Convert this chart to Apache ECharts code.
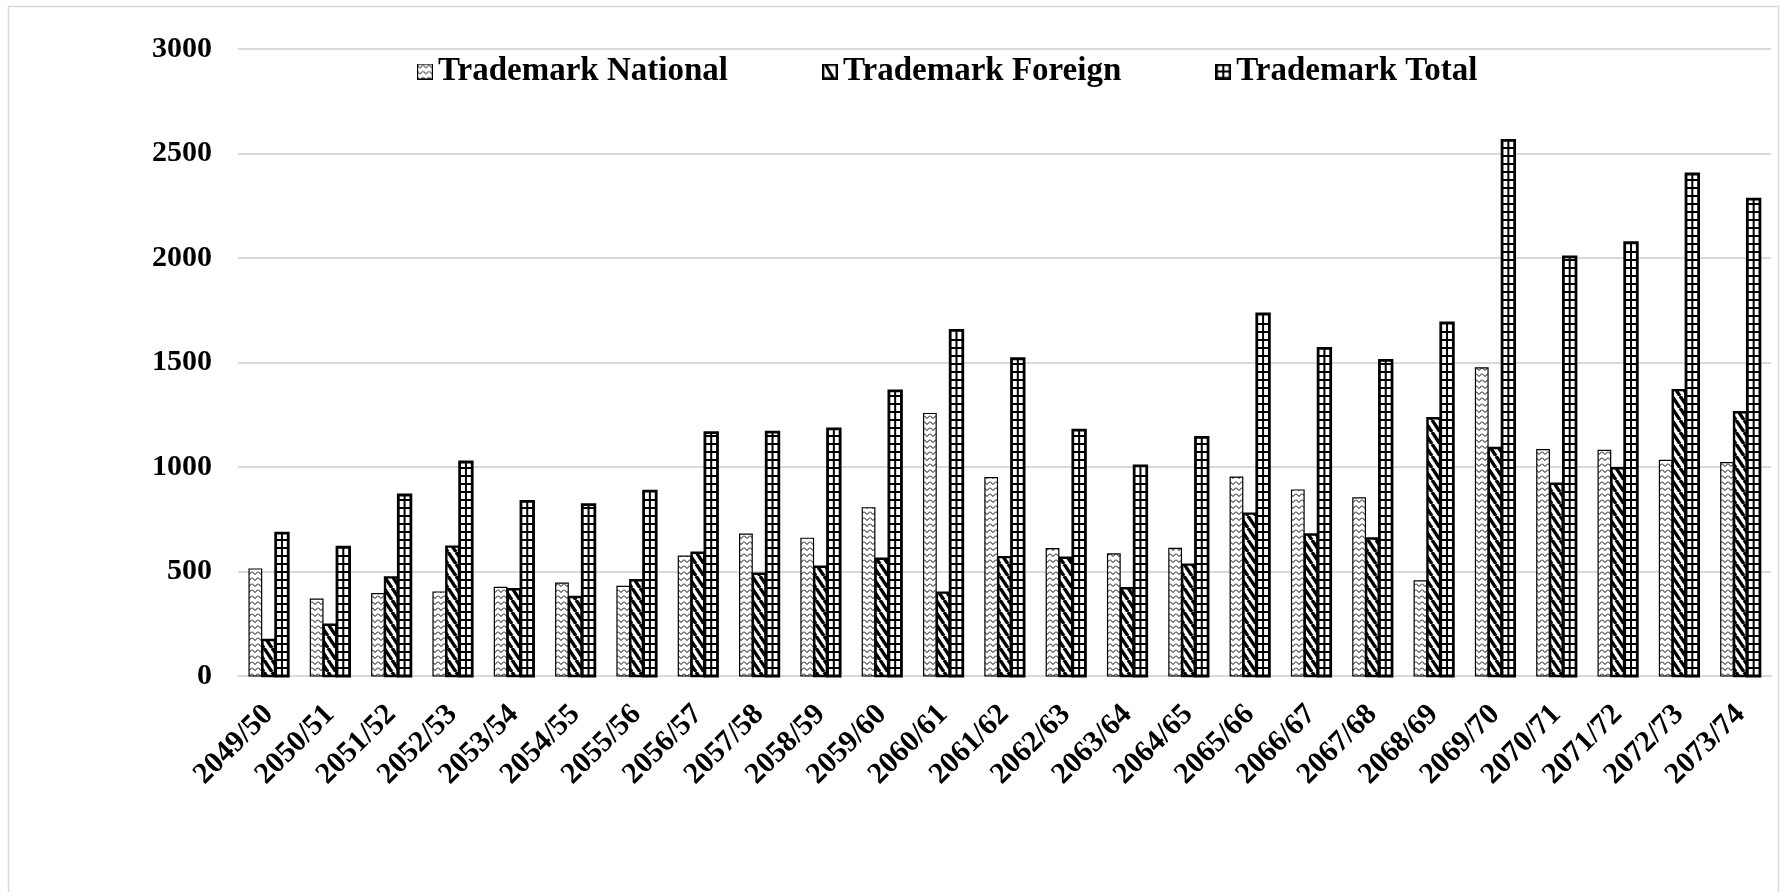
<!DOCTYPE html>
<html>
<head>
<meta charset="utf-8">
<script src="https://cdn.jsdelivr.net/npm/echarts@6/dist/echarts.min.js"></script>
<style>
html,body{margin:0;padding:0;background:#fff;}
#chart{width:1780px;height:892px;}
</style>
</head>
<body>
<div id="chart"></div>
<script>
const categories = ['2049/50','2050/51','2051/52','2052/53','2053/54','2054/55','2055/56','2056/57','2057/58','2058/59','2059/60','2060/61','2061/62','2062/63','2063/64','2064/65','2065/66','2066/67','2067/68','2068/69','2069/70','2070/71','2071/72','2072/73','2073/74'];
const nationalValues = [512,368,394,402,424,444,429,574,679,659,805,1256,949,609,584,611,952,890,852,455,1474,1083,1080,1032,1021];
const foreignValues = [172,245,472,619,415,378,458,590,489,523,561,399,569,566,420,533,777,677,658,1233,1091,920,994,1368,1262];
const totalValues = [684,616,866,1024,836,820,885,1164,1167,1182,1364,1654,1518,1176,1005,1142,1732,1568,1510,1689,2563,2005,2073,2402,2282];
const seriesNames = ['Trademark National','Trademark Foreign','Trademark Total'];
const yTicks = [0,500,1000,1500,2000,2500,3000];

const FONT = '"Liberation Serif","Times New Roman",serif';

function makeCanvas(w, h, draw) {
  const c = document.createElement('canvas');
  c.width = w; c.height = h;
  const ctx = c.getContext('2d');
  ctx.fillStyle = '#fff';
  ctx.fillRect(0, 0, w, h);
  draw(ctx, w, h);
  return c;
}
// National: fine dotted zigzag
const natTile = makeCanvas(6, 6, (ctx) => {
  ctx.strokeStyle = '#000'; ctx.lineWidth = 1;
  ctx.beginPath();
  ctx.moveTo(0, 1.5); ctx.lineTo(3, 4.5); ctx.lineTo(6, 1.5);
  ctx.stroke();
});
// Foreign: thick "\" stripes
const forTile = makeCanvas(8, 12, (ctx) => {
  ctx.strokeStyle = '#000'; ctx.lineWidth = 3.4;
  ctx.beginPath();
  for (let k = -1; k <= 1; k++) {
    ctx.moveTo(k * 8, 0); ctx.lineTo(k * 8 + 8, 12);
  }
  ctx.stroke();
});
const natPattern = { image: natTile, repeat: 'repeat' };
const forPattern = { image: forTile, repeat: 'repeat' };

// legend icons
function iconCanvas(kind) {
  return makeCanvas(16, 16, (ctx, w, h) => {
    if (kind === 0) {
      ctx.fillStyle = ctx.createPattern(natTile, 'repeat');
      ctx.fillRect(0, 0, w, h);
      ctx.strokeStyle = '#000'; ctx.lineWidth = 1.2; ctx.strokeRect(0.6, 0.6, w - 1.2, h - 1.2);
    } else if (kind === 1) {
      ctx.strokeStyle = '#000'; ctx.lineWidth = 3;
      ctx.beginPath(); ctx.moveTo(4, 2); ctx.lineTo(11, 14); ctx.stroke();
      ctx.lineWidth = 2.4; ctx.strokeRect(1.2, 1.2, w - 2.4, h - 2.4);
    } else {
      ctx.strokeStyle = '#000'; ctx.lineWidth = 2;
      ctx.beginPath();
      ctx.moveTo(w / 2, 0); ctx.lineTo(w / 2, h);
      ctx.moveTo(0, 8); ctx.lineTo(w, 8);
      ctx.stroke();
      ctx.lineWidth = 2.6; ctx.strokeRect(1.3, 1.3, w - 2.6, h - 2.6);
    }
  }).toDataURL();
}

function makeRender(slot) {
  return function (params, api) {
    const idx = api.value(0), val = api.value(1);
    const base = api.coord([idx, 0]);
    const top = api.coord([idx, val]);
    const cw = api.size([1, 0])[0];
    const bw = cw * 0.205, gap = cw * 0.012;
    const groupW = 3 * bw + 2 * gap;
    const left = base[0] - groupW / 2 + slot * (bw + gap);
    const y0 = base[1], y1 = top[1];
    const h = y0 - y1;
    if (slot === 0) {
      return { type: 'rect', shape: { x: left, y: y1, width: bw, height: h },
        style: { fill: natPattern, stroke: '#000', lineWidth: 1.2 } };
    }
    if (slot === 1) {
      return { type: 'rect', shape: { x: left, y: y1, width: bw, height: h },
        style: { fill: forPattern, stroke: '#000', lineWidth: 2.4 } };
    }
    // Total: ladder of white squares
    const cx = left + bw / 2;
    let d = 'M' + cx + ' ' + y1 + 'L' + cx + ' ' + y0;
    const period = 8;
    for (let y = y0 - period; y > y1 + 3; y -= period) {
      d += 'M' + left + ' ' + y.toFixed(2) + 'L' + (left + bw) + ' ' + y.toFixed(2);
    }
    return { type: 'group', children: [
      { type: 'rect', shape: { x: left, y: y1, width: bw, height: h }, style: { fill: '#fff', stroke: null } },
      { type: 'path', shape: { pathData: d }, style: { fill: null, stroke: '#000', lineWidth: 2 } },
      { type: 'rect', shape: { x: left, y: y1, width: bw, height: h }, style: { fill: null, stroke: '#000', lineWidth: 2.8 } }
    ] };
  };
}

const allSeries = [nationalValues, foreignValues, totalValues].map((vals, s) => ({
  name: seriesNames[s],
  type: 'custom',
  renderItem: makeRender(s),
  encode: { x: 0, y: 1 },
  itemStyle: { color: s === 0 ? natPattern : (s === 1 ? forPattern : '#fff'), borderColor: '#000' },
  data: vals.map((v, i) => [i, v])
}));

const chart = echarts.init(document.getElementById('chart'), null, { renderer: 'canvas' });
chart.setOption({
  animation: false,
  backgroundColor: '#fff',
  graphic: [{
    type: 'rect', left: 6, top: 4, z: -10,
    shape: { x: 0, y: 0, width: 1770, height: 900 },
    style: { fill: null, stroke: '#d9d9d9', lineWidth: 1.5 }
  }],
  legend: {
    left: 412, top: 50,
    itemWidth: 16, itemHeight: 16, itemGap: 94,
    textStyle: { fontFamily: FONT, fontWeight: 'bold', fontSize: 33, color: '#000' },
    data: seriesNames.map((n, i) => ({ name: n, icon: 'image://' + iconCanvas(i) }))
  },
  grid: { left: 238, right: 9, top: 49, bottom: 216, containLabel: false },
  xAxis: {
    type: 'category',
    data: categories,
    axisLine: { lineStyle: { color: '#d9d9d9', width: 2 } },
    axisTick: { show: false },
    axisLabel: { interval: 0, rotate: 45, margin: 34, fontFamily: FONT, fontWeight: 'bold', fontSize: 30, color: '#000' }
  },
  yAxis: {
    type: 'value', min: yTicks[0], max: yTicks[yTicks.length - 1], interval: yTicks[1] - yTicks[0],
    axisLine: { show: false }, axisTick: { show: false },
    splitLine: { lineStyle: { color: '#d9d9d9', width: 2 } },
    axisLabel: { margin: 26, fontFamily: FONT, fontWeight: 'bold', fontSize: 30, color: '#000',
      formatter: (v) => String(v) }
  },
  series: allSeries
});
</script>
</body>
</html>
